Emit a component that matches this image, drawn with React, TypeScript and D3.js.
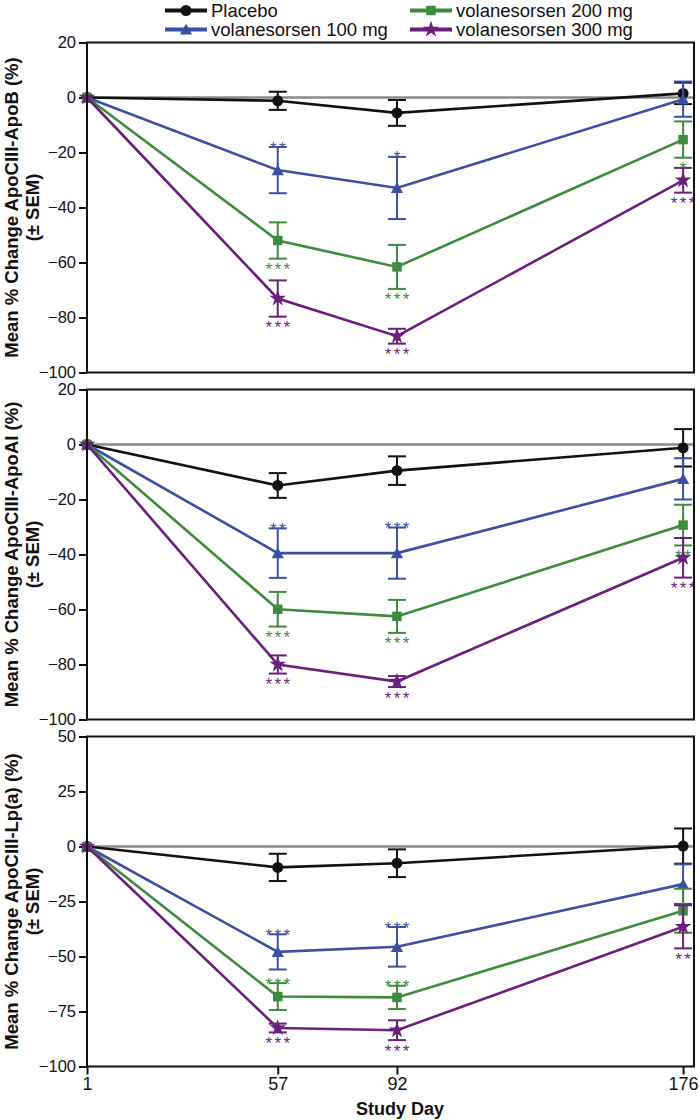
import React, { useEffect, useRef } from 'react';
import * as d3 from 'd3';

// study days on the x axis
const days = [1, 57, 92, 176];

const seriesNames = ['Placebo', 'volanesorsen 100 mg', 'volanesorsen 200 mg', 'volanesorsen 300 mg'];
const seriesColors = ['#111111', '#3d4fa3', '#3d8b3d', '#6b1f7d'];
const seriesSymbols = [d3.symbolCircle, d3.symbolTriangle, d3.symbolSquare, d3.symbolStar];
const symbolSizes = [95, 66, 90, 85];

const panelLabels = [
  'Mean % Change ApoCIII-ApoB (%)',
  'Mean % Change ApoCIII-ApoAI (%)',
  'Mean % Change ApoCIII-Lp(a) (%)',
];

const panelDomains = [[-100, 20], [-100, 20], [-100, 50]];
const panelTicks = [
  [20, 0, -20, -40, -60, -80, -100],
  [20, 0, -20, -40, -60, -80, -100],
  [50, 25, 0, -25, -50, -75, -100],
];

// mean % change, one row per series (placebo, 100, 200, 300 mg)
const apoBMean = [
  [0, -1.2, -5.6, 1.5],
  [0, -26.4, -32.9, -0.6],
  [0, -52, -61.6, -15.3],
  [0, -73.1, -86.8, -30.1],
];
const apoBSem = [
  [0, 3.3, 4.7, 3.9],
  [0, 8.4, 11.3, 6.4],
  [0, 6.6, 8, 6.6],
  [0, 6.6, 2.7, 4.5],
];

const apoAIMean = [
  [0, -14.9, -9.5, -1.2],
  [0, -39.5, -39.5, -12.5],
  [0, -59.9, -62.5, -29.3],
  [0, -80, -86.2, -41.2],
];
const apoAISem = [
  [0, 4.5, 5.2, 6.8],
  [0, 9, 9.3, 7.5],
  [0, 6.3, 6, 7.4],
  [0, 3.3, 2, 7.2],
];

const lpaMean = [
  [0, -9.5, -7.6, 0.2],
  [0, -47.9, -45.6, -17.1],
  [0, -68.2, -68.6, -29.2],
  [0, -82.5, -83.5, -36.5],
];
const lpaSem = [
  [0, 6.2, 6.3, 8],
  [0, 8, 9, 9],
  [0, 6.1, 5.3, 10],
  [0, 2, 4.5, 9.8],
];

const panelMeans = [apoBMean, apoAIMean, lpaMean];
const panelSems = [apoBSem, apoAISem, lpaSem];

// significance marks: [panel, series, day index, stars, side]
const sigMarks: [number, number, number, string, string][] = [
  [0, 1, 1, '**', 'above'],
  [0, 2, 1, '***', 'below'],
  [0, 3, 1, '***', 'below'],
  [0, 1, 2, '*', 'above'],
  [0, 2, 2, '***', 'below'],
  [0, 3, 2, '***', 'below'],
  [0, 2, 3, '*', 'below'],
  [0, 3, 3, '***', 'below'],
  [1, 1, 1, '**', 'above'],
  [1, 2, 1, '***', 'below'],
  [1, 3, 1, '***', 'below'],
  [1, 1, 2, '***', 'above'],
  [1, 2, 2, '***', 'below'],
  [1, 3, 2, '***', 'below'],
  [1, 2, 3, '**', 'below'],
  [1, 3, 3, '***', 'below'],
  [2, 1, 1, '***', 'above'],
  [2, 2, 1, '***', 'above'],
  [2, 3, 1, '***', 'below'],
  [2, 1, 2, '***', 'above'],
  [2, 2, 2, '***', 'above'],
  [2, 3, 2, '***', 'below'],
  [2, 3, 3, '**', 'below'],
];

const FONT = 'Liberation Sans, Arial, Helvetica, sans-serif';

export default function App() {
  const ref = useRef<SVGSVGElement>(null);

  useEffect(() => {
    const width = 700;
    const height = 1120;
    const left = 87;
    const right = 694;
    const panelTop = 42.5;
    const panelH = 330;
    const panelGap = 17;

    const svg = d3.select(ref.current).attr('width', width).attr('height', height);
    svg.selectAll('*').remove();

    const x = d3.scaleLinear().domain([1, 179.2]).range([left, right]);

    // legend: two columns, placebo / 100 mg left, 200 / 300 mg right
    const legend = svg.append('g').attr('font-family', FONT).attr('font-size', 18.5);
    const legendPos = [
      [165, 10.5],
      [165, 29.5],
      [410, 10.5],
      [410, 29.5],
    ];
    seriesNames.forEach((name, i) => {
      const [lx, ly] = legendPos[i];
      const g = legend.append('g').attr('transform', `translate(${lx},${ly})`);
      g.append('line').attr('x1', 0).attr('x2', 42).attr('stroke', seriesColors[i]).attr('stroke-width', 4);
      g.append('path')
        .attr('transform', `translate(21,${i === 1 ? 1.5 : 0})`)
        .attr('d', d3.symbol().type(seriesSymbols[i]).size(symbolSizes[i])())
        .attr('fill', seriesColors[i]);
      g.append('text').attr('x', 46).attr('y', 6.6).attr('fill', '#111').text(name);
    });

    panelLabels.forEach((label, p) => {
      const top = panelTop + p * (panelH + panelGap);
      const bottom = top + panelH;
      const y = d3.scaleLinear().domain(panelDomains[p]).range([bottom, top]);
      const g = svg.append('g');

      // zero line
      g.append('line')
        .attr('x1', left)
        .attr('x2', right)
        .attr('y1', y(0))
        .attr('y2', y(0))
        .attr('stroke', '#8a8a8a')
        .attr('stroke-width', 2.5);

      // y axis
      const ya = g
        .append('g')
        .attr('transform', `translate(${left},0)`)
        .call(d3.axisLeft(y).tickValues(panelTicks[p]).tickSize(8).tickPadding(3).tickFormat(d3.format('d')));
      ya.select('.domain').remove();
      ya.selectAll('line').attr('stroke', '#111').attr('stroke-width', 2);
      ya.selectAll('text').attr('font-family', FONT).attr('font-size', 16.5).attr('fill', '#111');

      if (p === 2) {
        const xa = g
          .append('g')
          .attr('transform', `translate(0,${bottom})`)
          .call(d3.axisBottom(x).tickValues(days).tickSize(8).tickPadding(3).tickFormat(d3.format('d')));
        xa.select('.domain').remove();
        xa.selectAll('line').attr('stroke', '#111').attr('stroke-width', 2);
        xa.selectAll('text').attr('font-family', FONT).attr('font-size', 18).attr('fill', '#111');

        g.append('text')
          .attr('x', 400)
          .attr('y', 1115)
          .attr('text-anchor', 'middle')
          .attr('font-family', FONT)
          .attr('font-weight', 'bold')
          .attr('font-size', 18)
          .attr('fill', '#111')
          .text('Study Day');
      }

      // y title
      const cy = (top + bottom) / 2;
      const yt = g
        .append('text')
        .attr('transform', 'rotate(-90)')
        .attr('text-anchor', 'middle')
        .attr('font-family', FONT)
        .attr('font-weight', 'bold')
        .attr('font-size', 18.5)
        .attr('fill', '#111');
      yt.append('tspan').attr('x', -cy).attr('y', 18).text(label);
      yt.append('tspan').attr('x', -cy).attr('y', 39).text('(± SEM)');

      const means = panelMeans[p];
      const sems = panelSems[p];
      const line = d3
        .line<number>()
        .x((_, i) => x(days[i]))
        .y(d => y(d));

      means.forEach((vals, s) => {
        const color = seriesColors[s];
        const sg = g.append('g');
        sg.append('path')
          .attr('d', line(vals))
          .attr('fill', 'none')
          .attr('stroke', color)
          .attr('stroke-width', 2.6);

        vals.forEach((v, i) => {
          const e = sems[s][i];
          if (e <= 0) return;
          const cx = x(days[i]);
          const eb = sg.append('g').attr('stroke', color).attr('stroke-width', 2);
          eb.append('line').attr('x1', cx).attr('x2', cx).attr('y1', y(v + e)).attr('y2', y(v - e));
          eb.append('line').attr('x1', cx - 9).attr('x2', cx + 9).attr('y1', y(v + e)).attr('y2', y(v + e));
          eb.append('line').attr('x1', cx - 9).attr('x2', cx + 9).attr('y1', y(v - e)).attr('y2', y(v - e));
        });

        sg.selectAll('path.mark')
          .data(vals)
          .enter()
          .append('path')
          .attr('class', 'mark')
          .attr('transform', (d, i) => `translate(${x(days[i])},${y(d) + (s === 1 ? 1.5 : 0)})`)
          .attr('d', d3.symbol().type(seriesSymbols[s]).size(symbolSizes[s])())
          .attr('fill', color);
      });

      // asterisks
      sigMarks
        .filter(m => m[0] === p)
        .forEach(([, s, di, stars, side]) => {
          const v = means[s][di];
          const e = sems[s][di];
          const cyStar = side === 'above' ? y(v + e) - 3 : y(v - e) + 7;
          const cx = x(days[di]);
          const n = stars.length;
          for (let k = 0; k < n; k++) {
            g.append('text')
              .attr('x', cx + (k - (n - 1) / 2) * 9)
              .attr('y', cyStar + 9.5)
              .attr('text-anchor', 'middle')
              .attr('font-family', FONT)
              .attr('font-size', 17)
              .attr('fill', seriesColors[s])
              .text('*');
          }
        });

      // frame
      g.append('rect')
        .attr('x', left)
        .attr('y', top)
        .attr('width', right - left)
        .attr('height', panelH)
        .attr('fill', 'none')
        .attr('stroke', '#111')
        .attr('stroke-width', 2);
    });
  }, []);

  return (
    <div style={{ position: 'absolute', left: 0, top: 0 }}>
      <svg ref={ref} style={{ display: 'block', background: '#fff' }}></svg>
    </div>
  );
}
